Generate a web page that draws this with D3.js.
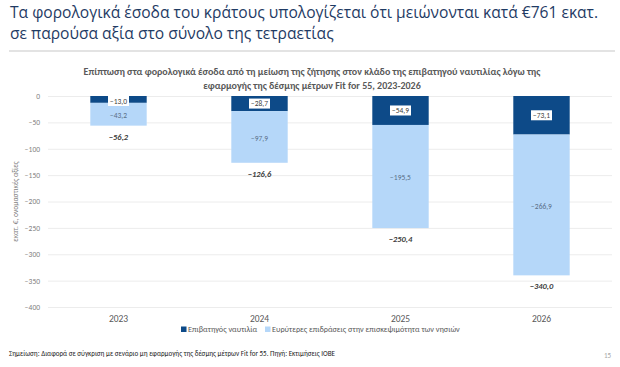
<!DOCTYPE html>
<html>
<head>
<meta charset="utf-8">
<script src="https://cdn.jsdelivr.net/npm/d3@7"></script>
<style>
  body { margin: 0; background: #fff; }
  svg { display: block; font-family: Calibri, Carlito, "Open Sans", sans-serif; }
</style>
</head>
<body>
<svg id="container" width="620" height="367"></svg>
<script>
// data
const YEARS = ['2023', '2024', '2025', '2026'];
const SHIPPING = [-13.0, -28.7, -54.9, -73.1];
const WIDER = [-43.2, -97.9, -195.5, -266.9];
const TOTALS = [-56.2, -126.6, -250.4, -340.0];
const Y_TICKS = [0, -50, -100, -150, -200, -250, -300, -350, -400];
const SERIES = ['Επιβατηγός ναυτιλία', 'Ευρύτερες επιδράσεις στην επισκεψιμότητα των νησιών'];

const DARK = '#0d4a88', LIGHT = '#b5d7f9';
const svg = d3.select('#container');
const fmt = d3.formatLocale({decimal: ',', thousands: '.', grouping: [3], currency: ['', '€']}).format('.1f');

// slide title
svg.append('text').attr('x', 10).attr('y', 18)
	.style('font-family', '"Open Sans", sans-serif').style('font-size', '15.6px').style('fill', '#1f3b64')
	.text('Τα φορολογικά έσοδα του κράτους υπολογίζεται ότι μειώνονται κατά €761 εκατ.');
svg.append('text').attr('x', 10).attr('y', 39)
	.style('font-family', '"Open Sans", sans-serif').style('font-size', '15.6px').style('fill', '#1f3b64')
	.text('σε παρούσα αξία στο σύνολο της τετραετίας');
svg.append('rect').attr('x', 9).attr('y', 50).attr('width', 606).attr('height', 2).style('fill', '#e3e3e3');

// chart title
svg.append('text').attr('x', 312).attr('y', 75).attr('text-anchor', 'middle')
	.style('font-size', '10px').style('font-weight', 'bold').style('fill', '#595959')
	.text('Επίπτωση στα φορολογικά έσοδα από τη μείωση της ζήτησης στον κλάδο της επιβατηγού ναυτιλίας λόγω της');
svg.append('text').attr('x', 312).attr('y', 89).attr('text-anchor', 'middle')
	.style('font-size', '10px').style('font-weight', 'bold').style('fill', '#595959')
	.text('εφαρμογής της δέσμης μέτρων Fit for 55, 2023-2026');

// scales
var x = d3.scaleBand().domain(YEARS).range([48, 612]).paddingInner(0.6).paddingOuter(0.3);
var y = d3.scaleLinear().domain([-400, 0]).range([307, 96]);

// gridlines + y axis
var yAxis = svg.append('g').attr('transform', 'translate(48,0)')
	.call(d3.axisLeft(y).tickValues(Y_TICKS).tickSize(-564).tickPadding(8).tickFormat(d3.format('d')));
yAxis.select('.domain').remove();
yAxis.selectAll('line').style('stroke', '#ececec');
yAxis.selectAll('text').style('font-size', '7.5px').style('fill', '#7f7f7f')
	.style('font-family', 'Calibri, Carlito, "Open Sans", sans-serif');

svg.append('text')
	.attr('transform', 'translate(18,' + y(-200) + ') rotate(-90)')
	.attr('text-anchor', 'middle')
	.style('font-size', '7.5px').style('fill', '#7f7f7f')
	.text('εκατ. €, ονομαστικές αξίες');

// x axis labels
var xAxis = svg.append('g').attr('transform', 'translate(0,307)')
	.call(d3.axisBottom(x).tickSize(0).tickPadding(8));
xAxis.select('.domain').remove();
xAxis.selectAll('text').style('font-size', '9.5px').style('fill', '#595959')
	.style('font-family', 'Calibri, Carlito, "Open Sans", sans-serif');

// bars
var bars = svg.append('g');
bars.selectAll('rect.ship')
	.data(SHIPPING)
	.enter()
	.append('rect')
	.attr('class', 'ship')
	.attr('x', function(d,i) { return x(YEARS[i]); })
	.attr('y', y(0))
	.attr('width', x.bandwidth())
	.attr('height', function(d) { return y(d) - y(0); })
	.style('fill', DARK);
bars.selectAll('rect.wide')
	.data(WIDER)
	.enter()
	.append('rect')
	.attr('class', 'wide')
	.attr('x', function(d,i) { return x(YEARS[i]); })
	.attr('y', function(d,i) { return y(SHIPPING[i]); })
	.attr('width', x.bandwidth())
	.attr('height', function(d,i) { return y(SHIPPING[i] + d) - y(SHIPPING[i]); })
	.style('fill', LIGHT);

// labels on dark segment (white boxes)
var dl = svg.append('g').selectAll('g')
	.data(SHIPPING)
	.enter()
	.append('g')
	.attr('transform', function(d,i) {
		var cy = Math.max((y(0) + y(d)) / 2, y(0) + 5);
		return 'translate(' + (x(YEARS[i]) + x.bandwidth()/2) + ',' + cy + ')';
	});
dl.append('rect').attr('x', -10.5).attr('y', -5).attr('width', 21).attr('height', 10).style('fill', '#fff');
dl.append('text').attr('text-anchor', 'middle').attr('dy', '0.35em')
	.style('font-size', '7.5px').style('fill', '#404040')
	.text(function(d) { return fmt(d); });

// labels on light segment
svg.append('g').selectAll('text')
	.data(WIDER)
	.enter()
	.append('text')
	.attr('x', function(d,i) { return x(YEARS[i]) + x.bandwidth()/2; })
	.attr('y', function(d,i) { return (y(SHIPPING[i]) + y(SHIPPING[i] + d)) / 2 + 1; })
	.attr('text-anchor', 'middle').attr('dy', '0.35em')
	.style('font-size', '7.5px').style('fill', '#5a6f88')
	.text(function(d) { return fmt(d); });

// totals below bars
svg.append('g').selectAll('text')
	.data(TOTALS)
	.enter()
	.append('text')
	.attr('x', function(d,i) { return x(YEARS[i]) + x.bandwidth()/2; })
	.attr('y', function(d) { return y(d) + 11; })
	.attr('text-anchor', 'middle').attr('dy', '0.35em')
	.style('font-size', '8.5px').style('font-weight', 'bold').style('font-style', 'italic').style('fill', '#404040')
	.text(function(d) { return fmt(d); });

// legend
var legend = svg.append('g').attr('transform', 'translate(181,329)');
var lx = [0, 84];
legend.selectAll('g')
	.data(SERIES)
	.enter()
	.append('g')
	.attr('transform', function(d,i) { return 'translate(' + lx[i] + ',0)'; })
	.each(function(d,i) {
		var g = d3.select(this);
		g.append('rect').attr('x', 0).attr('y', -2.5).attr('width', 5.5).attr('height', 5.5).style('fill', i == 0 ? DARK : LIGHT);
		g.append('text').attr('x', 7).attr('dy', '0.35em')
			.style('font-size', '8.2px').style('fill', '#595959').text(d);
	});

// footnote and page number
svg.append('text').attr('x', 9).attr('y', 356)
	.style('font-size', '7.1px').style('fill', '#262626')
	.text('Σημείωση: Διαφορά σε σύγκριση με σενάριο μη εφαρμογής της δέσμης μέτρων Fit for 55. Πηγή: Εκτιμήσεις ΙΟΒΕ');
svg.append('text').attr('x', 611).attr('y', 358).attr('text-anchor', 'end')
	.style('font-size', '7px').style('fill', '#a6a6a6').text('15');
</script>
</body>
</html>
